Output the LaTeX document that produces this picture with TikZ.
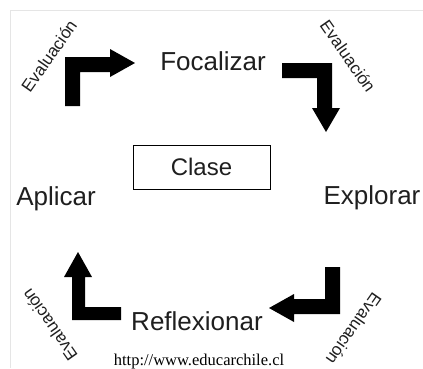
\documentclass[tikz,border=0pt]{standalone}
\usepackage{fontspec}
\setmainfont{Liberation Sans}
\newfontfamily\urlfont{Liberation Serif}
\begin{document}
\begin{tikzpicture}[x=1pt,y=-1pt,
  stage/.style={font=\fontsize{26}{30}\selectfont, inner sep=0pt, anchor=base, text=black!88},
  evallabel/.style={font=\fontsize{17}{20}\selectfont, inner sep=0pt, text=black!88},
  bigarrow/.style={fill=black, draw=none},
  frameline/.style={draw=black!10, line width=0.8pt}]
\useasboundingbox (0,0) rectangle (423,368);
\fill[white] (0,0) rectangle (423,368);
% faint frame of the screenshot
\coordinate (f1) at (10,10);
\coordinate (f2) at (423,10);
\coordinate (f3) at (10,368);
\draw[frameline] (f2) -- (f1) -- (f3);

% stage labels
\node[stage] (focalizar) at (213,70) {Focalizar};
\node[stage] (aplicar) at (56,205) {Aplicar};
\node[stage] (explorar) at (372,204) {Explorar};
\node[stage] (reflexionar) at (197,330) {Reflexionar};

% central box
\node[draw=black, line width=1pt, minimum width=137pt, minimum height=44pt,
      inner sep=0pt, font=\fontsize{24}{28}\selectfont, text=black!88] (clase) at (201.5,167) {Clase};

% evaluation labels
\node[evallabel, rotate=55] (ev1) at (49,56) {Evaluación};
\node[evallabel, rotate=-55] (ev2) at (348,56) {Evaluación};
\node[evallabel, rotate=-125] (ev3) at (354,329) {Evaluación};
\node[evallabel, rotate=125] (ev4) at (49.5,325) {Evaluación};

% thick bent arrows
\fill[bigarrow] (65,106) -- (65,57) -- (110,57) -- (110,49) -- (135,63) -- (110,77)
  -- (110,72) -- (80,72) -- (80,106) -- cycle;
\fill[bigarrow] (282,63) -- (332,63) -- (332,108) -- (340,108) -- (326,132) -- (312,108)
  -- (317,108) -- (317,78) -- (282,78) -- cycle;
\fill[bigarrow] (325,267) -- (340,267) -- (340,314) -- (294,314) -- (294,322) -- (269,308)
  -- (294,294) -- (294,299) -- (325,299) -- cycle;
\fill[bigarrow] (72,320) -- (72,277) -- (64,277) -- (78,252) -- (92,277) -- (85,277)
  -- (85,307) -- (121,307) -- (121,320) -- cycle;

% source
\node[font=\urlfont\fontsize{16.5}{19}\selectfont, inner sep=0pt, anchor=base] (url) at (199,365) {http://www.educarchile.cl};
\end{tikzpicture}
\end{document}
